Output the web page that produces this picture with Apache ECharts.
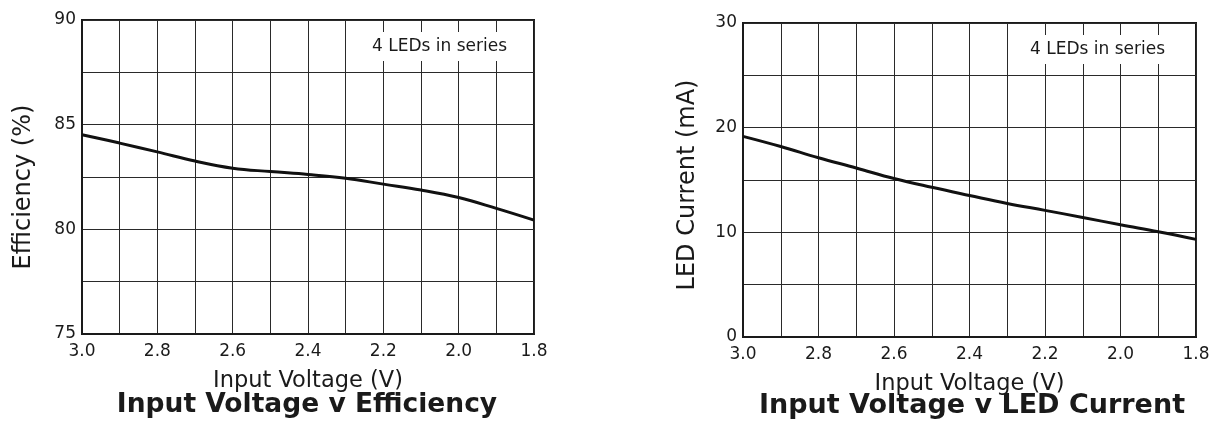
<!DOCTYPE html>
<html>
<head>
<meta charset="utf-8">
<script src="https://cdn.jsdelivr.net/npm/echarts@6/dist/echarts.min.js"></script>
<style>html,body{margin:0;padding:0;background:#fff}#c{width:1220px;height:432px}</style>
</head>
<body>
<div id="c"></div>
<script>
const voltage = [3.0, 2.9, 2.8, 2.7, 2.6, 2.5, 2.4, 2.3, 2.2, 2.1, 2.0, 1.9, 1.8];
const efficiency = [84.52, 84.12, 83.7, 83.26, 82.92, 82.76, 82.62, 82.44, 82.16, 81.88, 81.52, 81.0, 80.44];
const ledCurrent = [19.17, 18.2, 17.12, 16.15, 15.14, 14.3, 13.52, 12.76, 12.1, 11.42, 10.72, 10.06, 9.33];
const effTicks = [75, 90, 5];
const curTicks = [0, 30, 10];

const FONT = '"DejaVu Sans", "Liberation Sans", sans-serif';
const INK = '#1a1a1a';

function xAxisCfg(gi) {
  return {
    type: 'value', gridIndex: gi, min: 1.8, max: 3.0, interval: 0.1, inverse: true,
    name: 'Input Voltage (V)', nameLocation: 'middle', nameGap: 36,
    nameTextStyle: { fontFamily: FONT, fontSize: 22.5, color: INK },
    axisLine: { show: true, lineStyle: { color: INK, width: 2 } },
    axisTick: { show: false },
    axisLabel: {
      fontFamily: FONT, fontSize: 17, color: INK, margin: 9,
      formatter: v => (Math.round(v * 10) % 2 === 0 ? v.toFixed(1) : '')
    },
    splitLine: { show: true, lineStyle: { color: '#2a2a2a', width: 1 } }
  };
}
function yAxisCfg(gi, t, name, gap, shift) {
  return {
    type: 'value', gridIndex: gi, min: t[0], max: t[1], interval: t[2] / 2,
    name: name, nameLocation: 'middle', nameGap: gap,
    nameTextStyle: { fontFamily: FONT, fontSize: 24, color: INK, padding: [0, shift, 0, 0] },
    axisLine: { show: true, lineStyle: { color: INK, width: 2 } },
    axisTick: { show: false },
    axisLabel: {
      fontFamily: FONT, fontSize: 17, color: INK, margin: 6,
      formatter: v => (Math.abs(v % t[2]) < 1e-6 ? String(v) : '')
    },
    splitLine: { show: true, lineStyle: { color: '#2a2a2a', width: 1 } }
  };
}
function seriesCfg(gi, vals) {
  return {
    type: 'line', xAxisIndex: gi, yAxisIndex: gi, smooth: 0.4, symbol: 'none',
    lineStyle: { color: '#111', width: 3 },
    data: voltage.map((v, i) => [v, vals[i]]), z: 5
  };
}

const chart = echarts.init(document.getElementById('c'), null, { renderer: 'canvas' });
chart.setOption({
  animation: false,
  backgroundColor: '#fff',
  grid: [
    { left: 82, top: 20, width: 452, height: 314, show: true, borderColor: INK, borderWidth: 2, backgroundColor: 'transparent' },
    { left: 743, top: 23, width: 453, height: 314, show: true, borderColor: INK, borderWidth: 2, backgroundColor: 'transparent' }
  ],
  title: [
    { text: 'Input Voltage v Efficiency', left: 302, top: 387, textAlign: 'center',
      textStyle: { fontFamily: FONT, fontSize: 26.5, fontWeight: 'bold', color: INK } },
    { text: 'Input Voltage v LED Current', left: 967, top: 387, textAlign: 'center',
      textStyle: { fontFamily: FONT, fontSize: 27, fontWeight: 'bold', color: INK } },
    { text: '4 LEDs in series', left: 364, top: 32, backgroundColor: '#fff', padding: [6, 8],
      textStyle: { fontFamily: FONT, fontSize: 17, fontWeight: 'normal', color: INK } },
    { text: '4 LEDs in series', left: 1022, top: 35, backgroundColor: '#fff', padding: [6, 8],
      textStyle: { fontFamily: FONT, fontSize: 17, fontWeight: 'normal', color: INK } }
  ],
  xAxis: [xAxisCfg(0), xAxisCfg(1)],
  yAxis: [
    yAxisCfg(0, effTicks, 'Efficiency (%)', 46, 20),
    yAxisCfg(1, curTicks, 'LED Current (mA)', 43, 10)
  ],
  series: [seriesCfg(0, efficiency), seriesCfg(1, ledCurrent)]
});
</script>
</body>
</html>
